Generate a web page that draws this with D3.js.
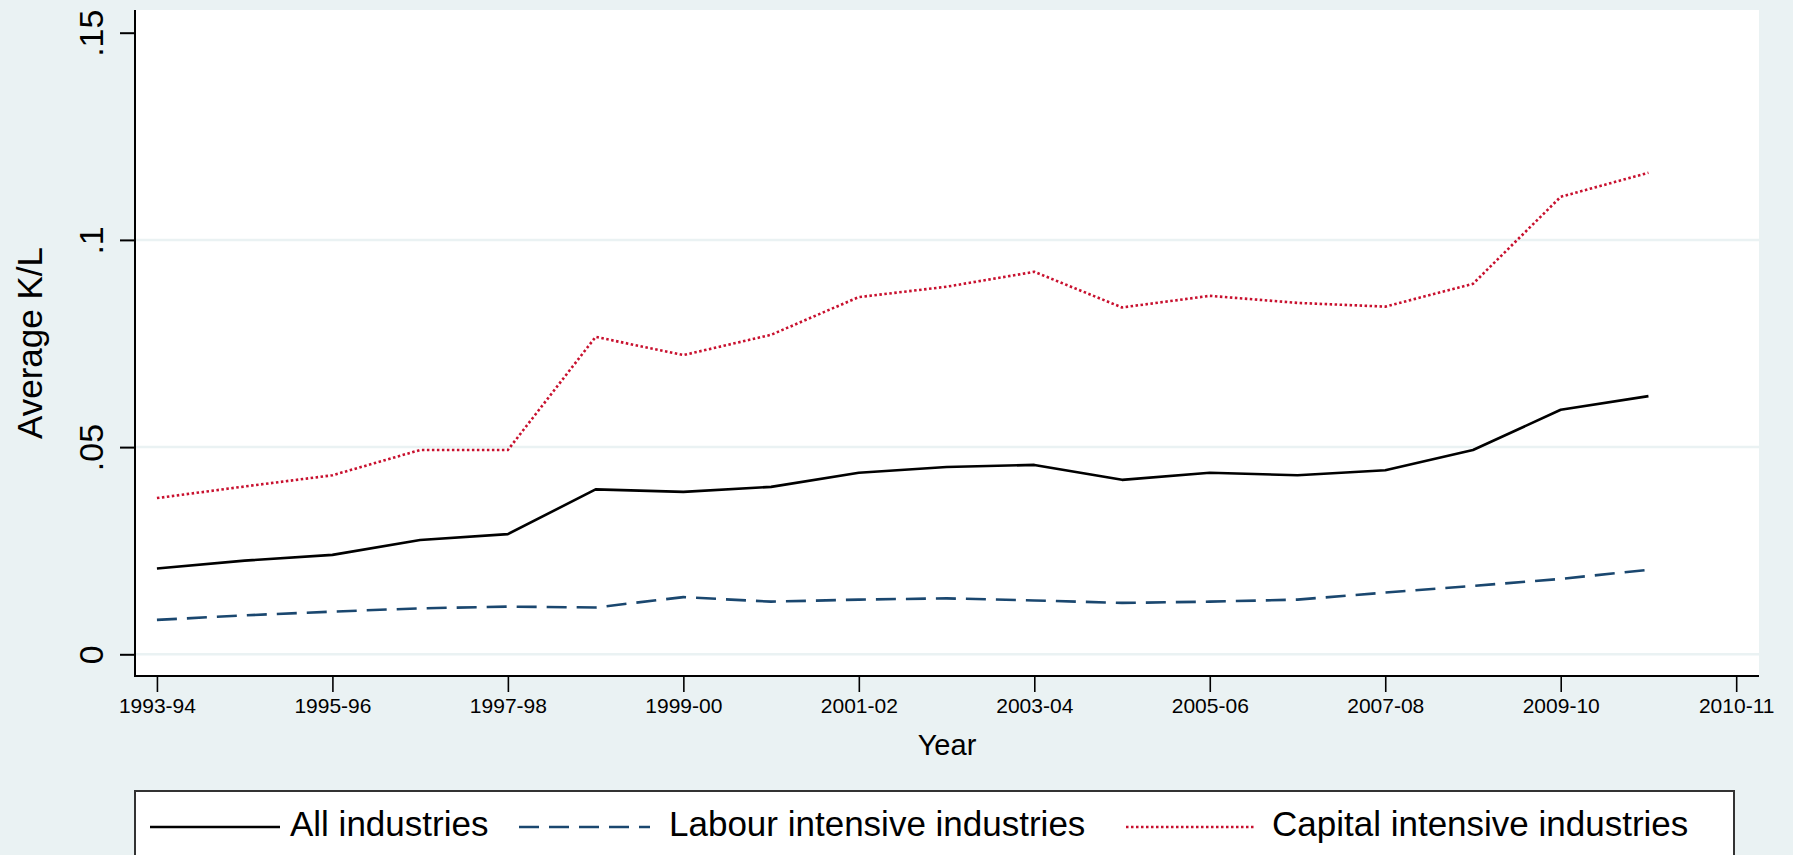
<!DOCTYPE html>
<html>
<head>
<meta charset="utf-8">
<script src="https://cdn.jsdelivr.net/npm/d3@7"></script>
<style>
  html, body { margin: 0; padding: 0; background: #eaf2f3; }
  svg { display: block; }
  text { font-family: Arial, "Liberation Sans", Helvetica, sans-serif; fill: #000; }
</style>
</head>
<body>
<svg id="chart" width="1793" height="855"></svg>
<script>
// ---------- data ----------
const periods = ["1993-94","1994-95","1995-96","1996-97","1997-98","1998-99","1999-00","2000-01","2001-02",
                 "2002-03","2003-04","2004-05","2005-06","2006-07","2007-08","2008-09","2009-10","2010-11"];
const allIndustries = [0.0207,0.0226,0.0240,0.0276,0.0290,0.0398,0.0392,0.0404,0.0438,
                       0.0452,0.0457,0.0421,0.0438,0.0432,0.0444,0.0493,0.0590,0.0623];
const labourIntensive = [0.0083,0.0094,0.0103,0.0111,0.0115,0.0113,0.0138,0.0127,0.0132,
                         0.0135,0.0130,0.0124,0.0127,0.0132,0.0149,0.0165,0.0182,0.0204];
const capitalIntensive = [0.0377,0.0405,0.0432,0.0493,0.0493,0.0766,0.0722,0.0771,0.0862,
                          0.0887,0.0923,0.0837,0.0865,0.0848,0.0839,0.0894,0.1104,0.1162];
const xTickPositions = [0,2,4,6,8,10,12,14,16,18];
const xTickLabels = ["1993-94","1995-96","1997-98","1999-00","2001-02","2003-04","2005-06","2007-08","2009-10","2010-11"];
const yTicks = [0, 0.05, 0.1, 0.15];
const yTickLabels = ["0", ".05", ".1", ".15"];
const yGridTicks = [0, 0.05, 0.1];
const seriesNames = ["All industries", "Labour intensive industries", "Capital intensive industries"];

// ---------- layout ----------
const svg = d3.select("#chart");
const plot = {left: 135, right: 1759, top: 10, bottom: 676};
const x = d3.scaleLinear().domain([-0.25, 18.26]).range([plot.left, plot.right]);
const y = d3.scaleLinear().domain([0, 0.15]).range([654.3, 32.7]);

const styles = [
  {color: "#000000", width: 2.6, dash: null},
  {color: "#1a476f", width: 2.6, dash: "20,10"},
  {color: "#c8102e", width: 2.6, dash: "2.5,2.5"}
];

// background
svg.append("rect").attr("width", 1793).attr("height", 855).attr("fill", "#eaf2f3");
svg.append("rect")
  .attr("x", plot.left).attr("y", plot.top)
  .attr("width", plot.right - plot.left).attr("height", plot.bottom - plot.top)
  .attr("fill", "#ffffff");

// gridlines
svg.append("g").selectAll("line").data(yGridTicks).join("line")
  .attr("x1", plot.left).attr("x2", plot.right)
  .attr("y1", d => y(d)).attr("y2", d => y(d))
  .attr("stroke", "#eaf2f3").attr("stroke-width", 2.5);

// y axis
const yAxis = d3.axisLeft(y).tickValues(yTicks).tickSize(15).tickFormat((d, i) => yTickLabels[i]);
const gy = svg.append("g").attr("transform", `translate(${plot.left},0)`).call(yAxis);
gy.select(".domain").remove();
gy.append("line").attr("x1", 0).attr("x2", 0).attr("y1", plot.top).attr("y2", plot.bottom + 1)
  .attr("stroke", "#000").attr("stroke-width", 2);
gy.selectAll(".tick line").attr("stroke", "#000").attr("stroke-width", 2);
gy.selectAll(".tick text")
  .attr("x", null).attr("dy", null)
  .attr("transform", "translate(-32,0) rotate(-90)")
  .attr("text-anchor", "middle")
  .attr("font-size", 34)
  .attr("font-family", "Arial, 'Liberation Sans', sans-serif")
  .attr("fill", "#000");

// x axis
const xAxis = d3.axisBottom(x).tickValues(xTickPositions).tickSize(16).tickFormat((d, i) => xTickLabels[i]);
const gx = svg.append("g").attr("transform", `translate(0,${plot.bottom})`).call(xAxis);
gx.select(".domain").remove();
gx.append("line").attr("x1", plot.left - 1).attr("x2", plot.right).attr("y1", 0).attr("y2", 0)
  .attr("stroke", "#000").attr("stroke-width", 2);
gx.selectAll(".tick line").attr("stroke", "#000").attr("stroke-width", 1.6);
gx.selectAll(".tick text")
  .attr("y", 37).attr("dy", null)
  .attr("font-size", 21)
  .attr("font-family", "Arial, 'Liberation Sans', sans-serif")
  .attr("fill", "#000");

// axis titles
svg.append("text")
  .attr("x", (plot.left + plot.right) / 2).attr("y", 755)
  .attr("text-anchor", "middle").attr("font-size", 29).text("Year");
svg.append("text")
  .attr("transform", `translate(42,${(plot.top + plot.bottom) / 2}) rotate(-90)`)
  .attr("text-anchor", "middle").attr("font-size", 35).text("Average K/L");

// lines
const seriesData = [allIndustries, labourIntensive, capitalIntensive];
const line = d3.line().x((d, i) => x(i)).y(d => y(d));
svg.append("g").selectAll("path").data(seriesData).join("path")
  .attr("d", d => line(d))
  .attr("fill", "none")
  .attr("stroke", (d, i) => styles[i].color)
  .attr("stroke-width", (d, i) => styles[i].width)
  .attr("stroke-dasharray", (d, i) => styles[i].dash)
  .attr("stroke-linejoin", "round");

// legend
const legendBox = {left: 135, right: 1734, top: 791};
svg.append("rect")
  .attr("x", legendBox.left).attr("y", legendBox.top)
  .attr("width", legendBox.right - legendBox.left).attr("height", 90)
  .attr("fill", "#ffffff").attr("stroke", "#333").attr("stroke-width", 2);
const legendItems = [
  {k0: 150, k1: 280, tx: 290},
  {k0: 519, k1: 650, tx: 669},
  {k0: 1126, k1: 1254, tx: 1272}
];
const lg = svg.append("g");
legendItems.forEach((it, i) => {
  lg.append("line")
    .attr("x1", it.k0).attr("x2", it.k1).attr("y1", 827).attr("y2", 827)
    .attr("stroke", styles[i].color).attr("stroke-width", styles[i].width)
    .attr("stroke-dasharray", styles[i].dash);
  lg.append("text").attr("x", it.tx).attr("y", 836).attr("font-size", 35).text(seriesNames[i]);
});
</script>
</body>
</html>
